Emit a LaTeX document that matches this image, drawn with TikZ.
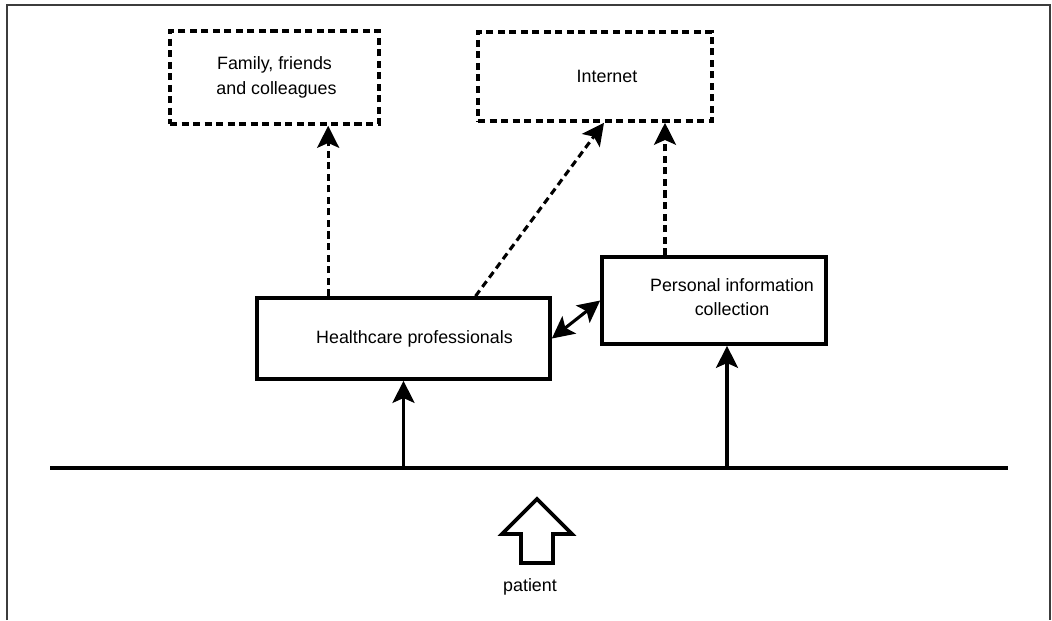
\documentclass[tikz,border=0pt]{standalone}
\usepackage{fontspec}
\setsansfont{Liberation Sans}
\usetikzlibrary{arrows.meta,positioning}
\definecolor{framegray}{RGB}{60,60,60}
\tikzstyle{solidbox}=[draw, line width=2.6pt, align=center, inner sep=0pt]
\tikzstyle{dashbox}=[draw, line width=2.5pt, dash pattern=on 5pt off 3.2pt, align=center, inner sep=0pt]
\tikzstyle{flow}=[line width=2.2pt, -{Stealth[length=5.5mm,width=5.5mm,inset=1.2mm]}]
\tikzstyle{dashflow}=[flow, dash pattern=on 5pt off 3.2pt]
\tikzstyle{twoway}=[line width=2.2pt, {Stealth[length=5.5mm,width=5.5mm,inset=1.2mm]}-{Stealth[length=5.5mm,width=5.5mm,inset=1.2mm]}]

\begin{document}
\begin{tikzpicture}[x=0.025cm,y=-0.025cm,font=\sffamily\fontsize{12.7}{17.7}\selectfont]
		    \useasboundingbox (0,0) rectangle (1052,620);
		    \draw[framegray, line width=1.6pt] (7,620) -- (7,5) -- (1050,5) -- (1050,620);
		    \node [dashbox, minimum width=5.225cm, minimum height=2.325cm] (fam) at (274.5,77.5) {Family, friends\\\hspace*{0.1cm}and colleagues};
		    \node [dashbox, minimum width=5.85cm, minimum height=2.225cm] (net) at (595,76.5) {\hspace*{0.6cm}Internet};
		    \node [solidbox, minimum width=7.325cm, minimum height=2.025cm] (hc) at (403.5,338.5) {\hspace*{0.55cm}Healthcare professionals};
		    \node [solidbox, minimum width=5.6cm, minimum height=2.175cm] (per) at (714,300.5) {\hspace*{0.9cm}Personal information\\\hspace*{0.9cm}collection\raisebox{-5pt}{}};
		    \coordinate (baseL) at (50,468);
		    \coordinate (baseR) at (1008,468);
		    \draw[line width=2.6pt] (baseL) -- (baseR);
		    % patient arrow
		    \draw[line width=2.6pt, line join=miter] (521,563) -- (521,534) -- (502,534) -- (537,499) -- (572,534) -- (553,534) -- (553,563) -- cycle;
		    \node (pat) at (530,587) {patient};
		    \draw[flow] (hc.south |- baseL) -- (hc.south);
		    \draw[flow] ([xshift=0.325cm]per.south |- baseL) -- ([xshift=0.325cm]per.south);
		    \draw[twoway] (hc.east) -- (per.west);
		    \draw[dashflow] ([xshift=1.825cm]hc.north west) -- ([xshift=1.825cm]hc.north west |- fam.south);
		    \draw[dashflow] ([xshift=1.8cm]hc.north) -- ([xshift=0.225cm]net.south);
		    \draw[dashflow] ([xshift=-1.225cm]per.north) -- ([xshift=-1.225cm]per.north |- net.south);
		\end{tikzpicture}
\end{document}
